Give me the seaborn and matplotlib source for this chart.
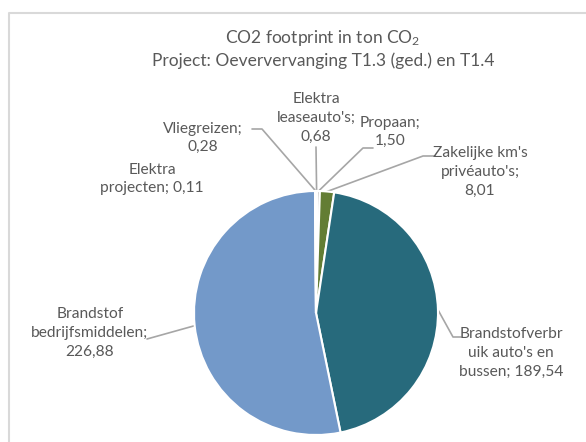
import numpy as np
import matplotlib
matplotlib.use("Agg")
import matplotlib.pyplot as plt
import seaborn as sns

# data, clockwise from 12 o'clock
labels = [
    "Elektra\nleaseauto's;\n0,68",
    "Propaan;\n1,50",
    "Zakelijke km's\nprivéauto's;\n8,01",
    "Brandstofverbr\nuik auto's en\nbussen; 189,54",
    "Brandstof\nbedrijfsmiddelen;\n226,88",
    "Elektra\nprojecten; 0,11",
    "Vliegreizen;\n0,28",
]
values = [0.68, 1.50, 8.01, 189.54, 226.88, 0.11, 0.28]
colors = ["#4472C4", "#A5A5A5", "#637D34", "#276A7C", "#7399C9", "#4BACC6", "#F79646"]

title1 = "CO2 footprint in ton CO$_2$"
title2 = "Project: Oeververvanging T1.3 (ged.) en T1.4"

sns.set_theme(style="white")
plt.rcParams["font.family"] = ["Lato", "DejaVu Sans"]
plt.rcParams["mathtext.fontset"] = "custom"
plt.rcParams["mathtext.rm"] = "Lato"
plt.rcParams["mathtext.it"] = "Lato:italic"

W, H = 586, 442
txt = "#595959"
line_c = "#A6A6A6"

fig = plt.figure(figsize=(W / 100, H / 100), dpi=100)
ax = fig.add_axes([0, 0, 1, 1])
ax.set_xlim(0, W)
ax.set_ylim(H, 0)
ax.set_axis_off()

# chart frame (only top/left visible in the crop)
ax.plot([8.5, 8.5, W], [H, 12.5, 12.5], color="#D9D9D9", lw=1.5, clip_on=False)

cx, cy, r = 316, 313, 122
# pie drawn in a y-up frame, so use a twin axes with normal orientation
pax = fig.add_axes([0, 0, 1, 1])
pax.set_axis_off()
wedges, _ = pax.pie(values, colors=colors, startangle=90, counterclock=False,
                    center=(cx, H - cy), radius=r, frame=False,
                    wedgeprops=dict(edgecolor="white", linewidth=1.5))
pax.set_xlim(0, W)
pax.set_ylim(0, H)
pax.set_aspect("auto")

# anchor points on the rim, from wedge angles
anchors = []
for w in wedges:
    a = np.deg2rad((w.theta1 + w.theta2) / 2)
    anchors.append((cx + r * np.cos(a), cy - r * np.sin(a)))

# label centres and leader paths (pixel layout, y down)
label_pos = [(316, 118), (390, 132), (480, 172), (511, 353), (90, 333), (152, 179), (203, 138)]
leaders = [
    [(316, 147)],
    [(363, 148), (373, 148)],
    [(423, 156), (435, 156)],
    [(453, 337), (461, 337)],
    [(147, 339)],
    None,
    [(262, 129), (252, 129)],
]

for lab, pos, path, anc in zip(labels, label_pos, leaders, anchors):
    ax.text(pos[0], pos[1], lab, ha="center", va="center", fontsize=11.2,
            color=txt, linespacing=1.42)
    if path:
        xs = [anc[0]] + [p[0] for p in path]
        ys = [anc[1]] + [p[1] for p in path]
        ax.plot(xs, ys, color=line_c, lw=1.2)

ax.text(323, 38, title1, ha="center", va="center", fontsize=12.5, color=txt)
ax.text(323, 61, title2, ha="center", va="center", fontsize=12.5, color=txt)

fig.savefig("out.png", dpi=100)
